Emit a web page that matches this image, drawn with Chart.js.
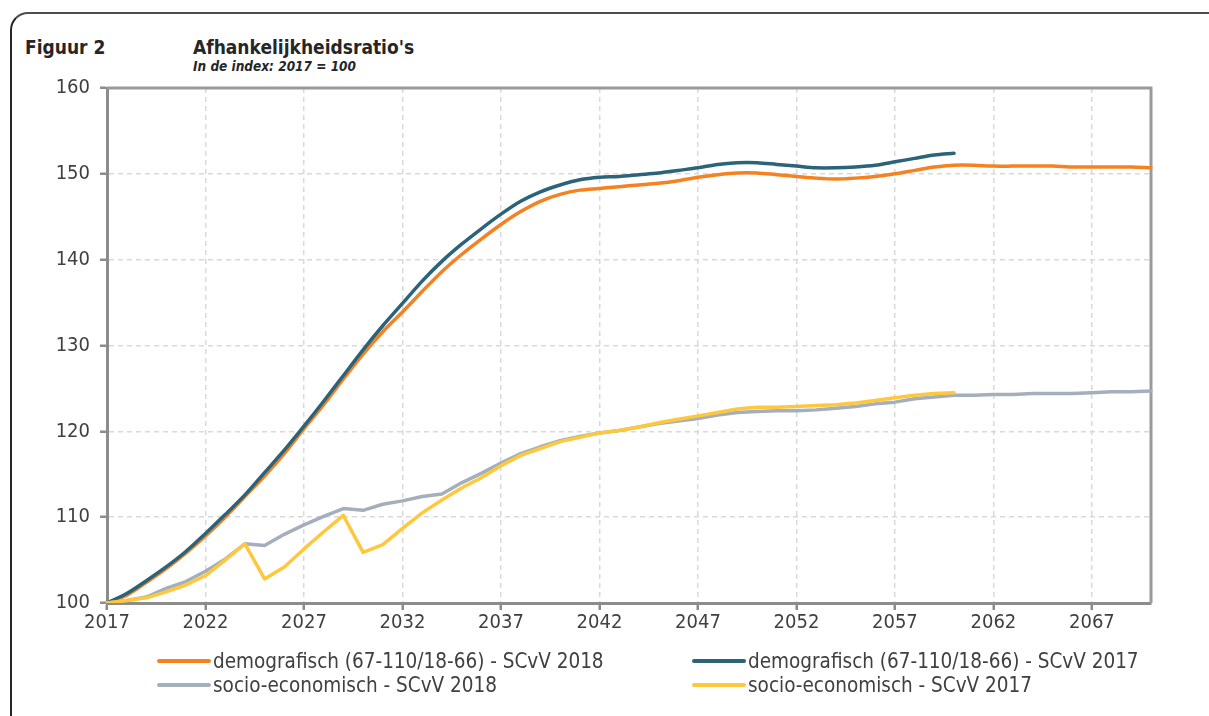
<!DOCTYPE html>
<html>
<head>
<meta charset="utf-8">
<script src="https://cdn.jsdelivr.net/npm/chart.js@4.4.1/dist/chart.umd.min.js"></script>
<style>
    body { margin: 0; background: #fff; }
    #wrap { position: relative; width: 1209px; height: 716px; overflow: hidden;
            font-family: 'DejaVu Sans Condensed', 'DejaVu Sans', sans-serif; color: #262626; }
    #frame { position: absolute; left: 10px; top: 12px; width: 1230px; height: 730px;
             border-top: 2px solid #4d4d4d; border-left: 2px solid #262626; border-top-left-radius: 18px; }
    .titel { position: absolute; font-weight: bold; font-size: 19px; top: 36px; }
    #sub { position: absolute; left: 193px; top: 58px; font-weight: bold; font-style: italic; font-size: 13.5px; }
    canvas { position: absolute; left: 0; top: 0; }
    .leg { position: absolute; font-size: 20.5px; line-height: 24px; color: #404040; white-space: nowrap; }
    .leg span { display: inline-block; width: 54px; height: 4px; border-radius: 2px; vertical-align: middle; margin-right: 2px; position: relative; top: -1px; }
</style>
</head>
<body>
<div id="wrap">
    <div id="frame"></div>
    <div class="titel" style="left:25px">Figuur 2</div>
    <div class="titel" style="left:193px">Afhankelijkheidsratio's</div>
    <div id="sub">In de index: 2017 = 100</div>
    <canvas id="ratioChart" width="1209" height="716"></canvas>
    <div id="legend"></div>
</div>
<script>
// Jaren 2017 - 2070
const years = [];
for (let y = 2017; y <= 2070; y++) years.push(String(y));

// demografisch (67-110/18-66) - SCvV 2018
const demo2018 = [100, 100.9, 102.4, 104.0, 105.8, 107.8, 110.0, 112.4, 114.8, 117.4,
    120.3, 123.1, 126.1, 129.0, 131.6, 133.9, 136.3, 138.6, 140.6, 142.4,
    144.1, 145.6, 146.8, 147.6, 148.1, 148.3, 148.5, 148.7, 148.9, 149.2,
    149.6, 149.9, 150.1, 150.1, 149.9, 149.7, 149.5, 149.4, 149.5, 149.7,
    150.0, 150.4, 150.8, 151.0, 151.0, 150.9, 150.9, 150.9, 150.9, 150.8,
    150.8, 150.8, 150.8, 150.7];

// demografisch (67-110/18-66) - SCvV 2017 (loopt tot 2060)
const demo2017 = [100, 101.1, 102.6, 104.2, 106.0, 108.1, 110.3, 112.6, 115.2, 117.8,
    120.6, 123.5, 126.5, 129.5, 132.3, 134.9, 137.5, 139.8, 141.8, 143.6,
    145.3, 146.8, 147.9, 148.7, 149.3, 149.6, 149.7, 149.9, 150.1, 150.4,
    150.7, 151.1, 151.3, 151.3, 151.1, 150.9, 150.7, 150.7, 150.8, 151.0,
    151.4, 151.8, 152.2, 152.4];

// socio-economisch - SCvV 2018
const socio2018 = [100, 100.3, 100.7, 101.7, 102.5, 103.7, 105.1, 106.9, 106.7, 108.0,
    109.1, 110.1, 111.0, 110.8, 111.5, 111.9, 112.4, 112.7, 114.0, 115.1,
    116.3, 117.4, 118.2, 118.9, 119.4, 119.8, 120.1, 120.5, 120.9, 121.2,
    121.5, 121.9, 122.2, 122.3, 122.4, 122.4, 122.5, 122.7, 122.9, 123.2,
    123.4, 123.8, 124.0, 124.2, 124.2, 124.3, 124.3, 124.4, 124.4, 124.4,
    124.5, 124.6, 124.6, 124.7];

// socio-economisch - SCvV 2017 (loopt tot 2060)
const socio2017 = [100, 100.3, 100.6, 101.3, 102.1, 103.2, 105.0, 106.9, 102.8, 104.2,
    106.3, 108.3, 110.2, 105.9, 106.8, 108.7, 110.5, 112.0, 113.4, 114.6,
    116.0, 117.2, 118.0, 118.8, 119.3, 119.8, 120.1, 120.5, 121.0, 121.4,
    121.8, 122.2, 122.6, 122.8, 122.8, 122.9, 123.0, 123.1, 123.3, 123.6,
    123.9, 124.2, 124.4, 124.5];

const yTicks = [100, 110, 120, 130, 140, 150, 160];

const seriesNames = [
    'demografisch (67-110/18-66) - SCvV 2018',
    'demografisch (67-110/18-66) - SCvV 2017',
    'socio-economisch - SCvV 2018',
    'socio-economisch - SCvV 2017'
];
const seriesColors = ['#F58220', '#2B6379', '#A3AFBC', '#FFC83C'];

const tickFont = { family: "'DejaVu Sans Condensed', 'DejaVu Sans', sans-serif", size: 20 };
const gridGrey = '#d9d9d9';
const axisGrey = '#8c8c8c';

// rand boven en rechts van het plotvlak
const plotBorder = {
    id: 'plotBorder',
    beforeDatasetsDraw(chart) {
        const { ctx, chartArea: a } = chart;
        ctx.save();
        ctx.strokeStyle = '#9a9a9a';
        ctx.lineWidth = 3;
        ctx.beginPath();
        ctx.moveTo(a.left, a.top);
        ctx.lineTo(a.right, a.top);
        ctx.lineTo(a.right, a.bottom);
        ctx.stroke();
        ctx.restore();
    }
};

function line(i, data, tension, order) {
    return {
        label: seriesNames[i],
        data: data,
        borderColor: seriesColors[i],
        backgroundColor: seriesColors[i],
        borderWidth: 3.5,
        borderCapStyle: 'round',
        borderJoinStyle: 'round',
        pointRadius: 0,
        tension: tension,
        order: order
    };
}

const chart = new Chart(document.getElementById('ratioChart'), {
    type: 'line',
    data: {
        labels: years,
        datasets: [
            line(0, demo2018, 0.3, 4),
            line(1, demo2017, 0.3, 3),
            line(2, socio2018, 0, 2),
            line(3, socio2017, 0, 1)
        ]
    },
    options: {
        responsive: false,
        animation: false,
        layout: { padding: { left: 0, right: 58, top: 88, bottom: 73 } },
        plugins: { legend: { display: false }, tooltip: { enabled: false } },
        scales: {
            x: {
                afterFit: s => { s.height = 40; },
                grid: {
                    color: c => (c.index % 5 === 0 ? gridGrey : 'rgba(0,0,0,0)'),
                    lineWidth: 1.5,
                    tickColor: c => (c.index % 5 === 0 ? axisGrey : 'rgba(0,0,0,0)'),
                    tickWidth: 2.5,
                    tickLength: 7,
                    tickBorderDash: []
                },
                border: { color: axisGrey, width: 3, dash: [5, 4] },
                ticks: {
                    autoSkip: false,
                    maxRotation: 0,
                    padding: 1,
                    color: '#404040',
                    font: tickFont,
                    callback: function (val, i) { return i % 5 === 0 ? this.getLabelForValue(val) : ''; }
                }
            },
            y: {
                min: 100,
                max: 160,
                afterFit: s => { s.width = 107; },
                afterBuildTicks: s => { s.ticks = yTicks.map(v => ({ value: v })); },
                grid: {
                    color: gridGrey,
                    lineWidth: 1.5,
                    tickColor: axisGrey,
                    tickWidth: 2.5,
                    tickLength: 7,
                    tickBorderDash: []
                },
                border: { color: axisGrey, width: 3, dash: [5, 4] },
                ticks: { padding: 10, color: '#404040', font: tickFont }
            }
        }
    },
    plugins: [plotBorder]
});

// Legenda in twee kolommen
const legendPos = [[157, 649], [692, 649], [157, 673], [692, 673]];
const legend = document.getElementById('legend');
chart.data.datasets.forEach((ds, i) => {
    const div = document.createElement('div');
    div.className = 'leg';
    div.style.left = legendPos[i][0] + 'px';
    div.style.top = legendPos[i][1] + 'px';
    div.innerHTML = `<span style="background:${ds.borderColor}"></span>${ds.label}`;
    legend.appendChild(div);
});
</script>
</body>
</html>
